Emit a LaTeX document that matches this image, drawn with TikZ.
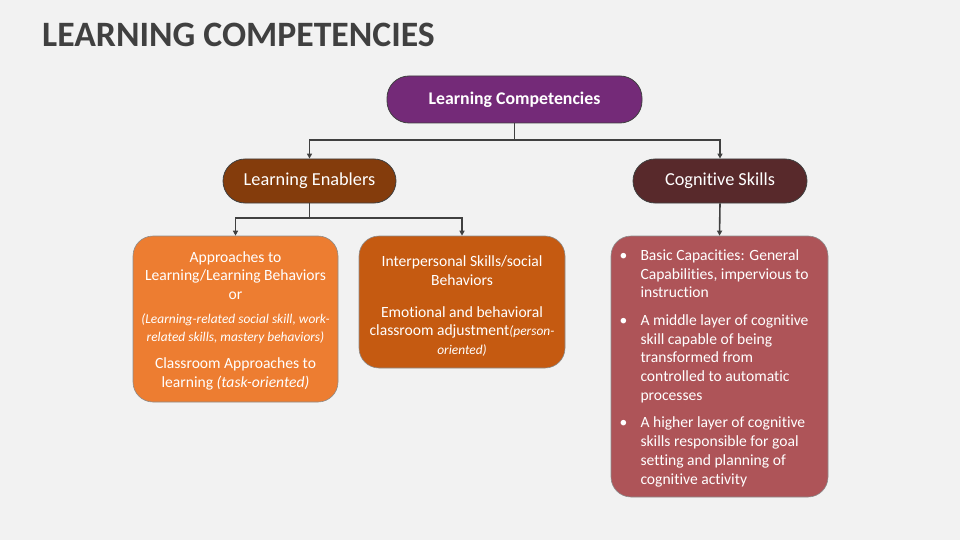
\documentclass[tikz,border=0pt]{standalone}
\usepackage{fontspec}
\setmainfont{Carlito}[Ligatures={NoCommon}]
\usetikzlibrary{arrows.meta}
\definecolor{bg}{HTML}{F2F2F2}
\definecolor{titlec}{HTML}{404040}
\definecolor{linec}{HTML}{404040}
\definecolor{topc}{HTML}{742A78}
\definecolor{lec}{HTML}{843C0C}
\definecolor{csc}{HTML}{58292B}
\definecolor{boxa}{HTML}{ED7D31}
\definecolor{boxb}{HTML}{C55A11}
\definecolor{boxc}{HTML}{AE5458}
\tikzset{
  pill/.style={draw=linec, line width=0.8pt, rounded corners=22pt, text=white, align=center, inner sep=0pt},
  card/.style={draw=linec!60, line width=0.6pt, rounded corners=20pt, text=white, inner sep=0pt},
  conn/.style={draw=linec, line width=1.6pt, -{Triangle[length=5pt,width=5pt]}},
  bodytxt/.style={font=\fontsize{15.6}{18.7}\selectfont}
}
\newcommand{\smit}{\itshape\fontsize{13.4}{18.7}\selectfont}
\begin{document}
\begin{tikzpicture}[x=1pt,y=-1pt]
\fill[bg] (0,0) rectangle (960,540);
\useasboundingbox (0,0) rectangle (960,540);

\node[anchor=base west, text=titlec, inner sep=0pt, font=\fontsize{35.7}{40}\selectfont\bfseries] (title) at (42,47) {LEARNING COMPETENCIES};

\node[pill, fill=topc, minimum width=255pt, minimum height=47pt, font=\fontsize{17.8}{20}\selectfont\bfseries] (top) at (514.5,99.5) {Learning Competencies};

\node[pill, fill=lec, minimum width=173pt, minimum height=44pt, font=\fontsize{18.3}{20}\selectfont] (le) at (309.5,181) {Learning Enablers};
\node[pill, fill=csc, minimum width=174pt, minimum height=44pt, font=\fontsize{18.3}{20}\selectfont] (cs) at (720,181) {Cognitive Skills};

\node[card, fill=boxa, minimum width=205pt, minimum height=166pt, bodytxt] (ba) at (235.5,319) {%
\raisebox{-2pt}[\height][\depth]{\begin{tabular}{@{}c@{}}
Approaches to\\
Learning/Learning Behaviors\\
or\\[5pt]
{\smit (Learning-related social skill, work-}\\
{\smit related skills, mastery behaviors)}\\[8pt]
Classroom Approaches to\\
learning {\itshape (task-oriented)}
\end{tabular}}};

\node[card, fill=boxb, minimum width=206pt, minimum height=132pt, bodytxt] (bb) at (462,302) {%
\raisebox{-5pt}[\height][\depth]{\begin{tabular}{@{}c@{}}
Interpersonal Skills/social\\
Behaviors\\[13pt]
Emotional and behavioral\\
classroom adjustment{\smit(person-}\\
{\smit oriented)}
\end{tabular}}};

\node[card, fill=boxc, minimum width=217pt, minimum height=261pt, bodytxt] (bc) at (719.5,366.5) {%
\raisebox{-2pt}[\height][\depth]{\begin{tabular}{@{}p{23pt}@{}p{181pt}@{}}
\hspace*{2pt}\textbullet & Basic Capacities: General\\
 & Capabilities, impervious to\\
 & instruction\\[9pt]
\hspace*{2pt}\textbullet & A middle layer of cognitive\\
 & skill capable of being\\
 & transformed from\\
 & controlled to automatic\\
 & processes\\[9pt]
\hspace*{2pt}\textbullet & A higher layer of cognitive\\
 & skills responsible for goal\\
 & setting and planning of\\
 & cognitive activity
\end{tabular}}};

\coordinate (j1) at (514.5,140);
\coordinate (j2) at (309.5,218);
\draw[line width=1.6pt, linec] (top.south) -- (j1);
\draw[conn] (j1) -| (le.north);
\draw[conn] (j1) -| (cs.north);
\draw[line width=1.6pt, linec] (le.south) -- (j2);
\draw[conn] (j2) -| (ba.north);
\draw[conn] (j2) -| (bb.north);
\draw[conn] (cs.south) -- (bc.north);
\end{tikzpicture}
\end{document}
